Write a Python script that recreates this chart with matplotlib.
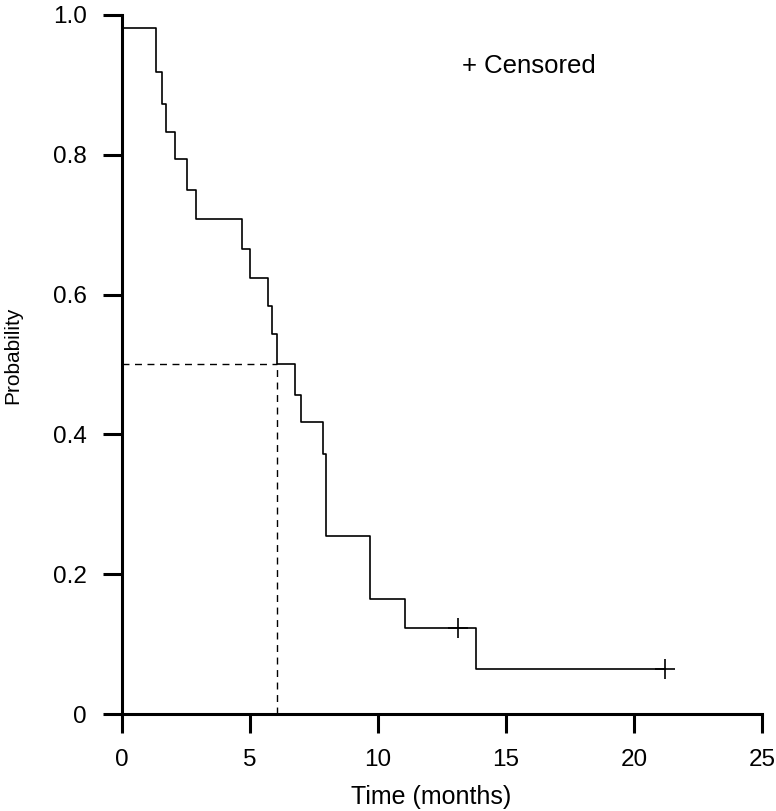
import matplotlib
matplotlib.use('Agg')
import matplotlib.pyplot as plt

# Kaplan-Meier step curve
times = [0, 1.32, 1.55, 1.74, 2.07, 2.53, 2.88, 4.68, 5.01, 5.71, 5.86, 6.04,
         6.78, 7.01, 7.84, 7.99, 9.71, 11.07, 13.84, 21.2]
surv = [0.982, 0.918, 0.872, 0.832, 0.794, 0.750, 0.708, 0.665, 0.624, 0.583, 0.544,
        0.500, 0.457, 0.417, 0.372, 0.255, 0.165, 0.123, 0.064, 0.064]
censor_t = [13.13, 21.2]
censor_s = [0.123, 0.064]
median_t = 6.04

xticks = [0, 5, 10, 15, 20, 25]
yticks = [0, 0.2, 0.4, 0.6, 0.8, 1.0]
yticklabels = ['0', '0.2', '0.4', '0.6', '0.8', '1.0']

plt.rcParams['font.family'] = ['Liberation Sans', 'DejaVu Sans']

fig = plt.figure(figsize=(7.76, 8.11), dpi=100)
ax = fig.add_axes([0.157, 0.1196, 0.825, 0.862])

ax.step(times, surv, where='post', color='black', linewidth=1.2)
ax.plot(censor_t, censor_s, linestyle='none', marker='+', color='black',
        markersize=14, markeredgewidth=1.2)

# median survival guide lines
ax.plot([0, median_t], [0.5, 0.5], linestyle=(0, (5, 4)), color='black', linewidth=1.0)
ax.plot([median_t, median_t], [0, 0.5], linestyle=(0, (5, 4)), color='black', linewidth=1.0)

ax.text(13.3, 0.927, '+ Censored', fontsize=18.5, ha='left', va='center')

ax.set_xlim(0, 25)
ax.set_ylim(0, 1.0)
ax.set_xticks(xticks)
ax.set_xticklabels([str(t) for t in xticks])
ax.set_yticks(yticks)
ax.set_yticklabels(yticklabels)
ax.tick_params(direction='out', length=14, width=2.2, labelsize=17.5, pad=11)

for side in ['top', 'right']:
    ax.spines[side].set_visible(False)
for side in ['left', 'bottom']:
    ax.spines[side].set_linewidth(2.2)

ax.set_xlabel('Time (months)', fontsize=18)
ax.set_ylabel('Probability', fontsize=15)
ax.xaxis.set_label_coords(0.483, -0.102)
ax.yaxis.set_label_coords(-0.155, 0.513)

fig.savefig('out.png', dpi=100)
